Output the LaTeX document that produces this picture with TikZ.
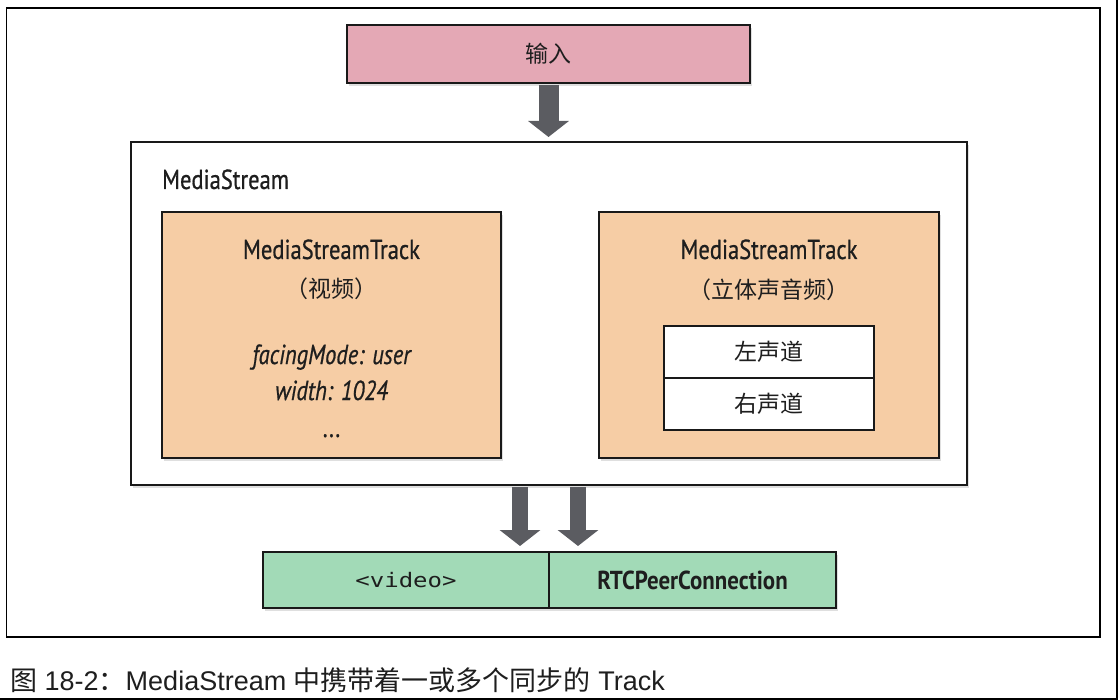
\documentclass[tikz,border=0pt]{standalone}
\usepackage{fontspec}
\usetikzlibrary{positioning,arrows.meta,shadows}
\newfontfamily\myriad[FakeStretch=0.82,FakeBold=0.7]{PT Sans}
\newfontfamily\myriadbold[FakeStretch=0.88]{PT Sans Bold}
\newfontfamily\cjk{Noto Sans CJK SC}
\newfontfamily\capfont{Liberation Sans}
\newfontfamily\codefont[FakeStretch=1.2]{DejaVu Sans Mono}
\definecolor{inpink}{HTML}{E4A8B5}
\definecolor{trackorange}{HTML}{F6CDA5}
\definecolor{outgreen}{HTML}{A2DAB7}
\definecolor{arrowgray}{HTML}{5B5C61}
\definecolor{ink}{HTML}{1E1E1E}
\tikzset{every node/.style={align=center, inner sep=0pt, text=ink},
  box/.style={draw=black!90, line width=2pt, rectangle, drop shadow={opacity=0.25, shadow xshift=2pt, shadow yshift=-3pt}},
  chbox/.style={draw=black!90, line width=2pt, fill=white, outer sep=0pt, minimum width=210pt, minimum height=52pt, font=\cjk\fontsize{23}{26}\selectfont},
  outbox/.style={box, fill=outgreen, outer sep=0pt, minimum height=56pt},
  lbl/.style={font=\myriad\fontsize{27.5}{30}\selectfont},
  prop/.style={font=\myriad\itshape\fontsize{27.5}{30}\selectfont},
  cjklbl/.style={font=\cjk\fontsize{23}{26}\selectfont},
  flow/.style={draw=arrowgray, line width=#1, shorten <=1pt, -{Triangle[width=40pt,length=16pt]}}}

\begin{document}
\begin{tikzpicture}[x=1pt, y=-1pt]
    \useasboundingbox (0,0) rectangle (1118,700);
    \draw[line width=1.5pt] (6.5,8) rectangle (1100,637);
    \draw[line width=1.5pt] (1117,0) -- (1117,700);
    \draw[line width=1.5pt] (0,699) -- (1118,699);
    % input and stream
    \node[box, fill=inpink, minimum width=403pt, minimum height=58pt] (input) at (548.5,54) {\cjk\fontsize{23}{26}\selectfont 输入};
    \node[box, fill=white, minimum width=836pt, minimum height=343pt] (ms) at (549,313.5) {};
    \node[lbl, anchor=base west] (mslabel) at (162,189) {MediaStream};
    % video track
    \node[box, fill=trackorange, minimum width=339pt, minimum height=246pt] (vtrack) at (331.5,335) {};
    \node[lbl, anchor=base] (vtitle) at (331.5,259) {MediaStreamTrack};
    \node[cjklbl] (vsub) at (331.5,289) {（视频）};
    \node[prop, anchor=base] (vmode) at (331.5,364) {facingMode: user};
    \node[prop, anchor=base] (vwidth) at (331.5,400) {width: 1024};
    \node[lbl, anchor=base] (vmore) at (331.5,437) {...};
    % audio track
    \node[box, fill=trackorange, minimum width=340pt, minimum height=246pt] (atrack) at (769,335) {};
    \node[lbl, anchor=base] (atitle) at (769,259) {MediaStreamTrack};
    \node[cjklbl] (asub) at (769,290) {（立体声音频）};
    \node[chbox] (lch) at (769,352) {左声道};
    \node[chbox, below=0pt of lch] (rch) {右声道};
    % outputs
    \node[outbox, minimum width=286pt, font=\codefont\fontsize{20}{24}\selectfont] (video) at (406,580) {<video>};
    \node[outbox, minimum width=287pt, right=0pt of video, font=\myriadbold\fontsize{26}{30}\selectfont] (rtc) {RTCPeerConnection};
    \coordinate[xshift=-29pt] (in1) at (video.north east);
    \coordinate[xshift=29pt] (in2) at (video.north east);
    \draw[flow=20pt, shorten >=4pt] (input.south) -- (input.south |- ms.north);
    \draw[flow=16pt, shorten >=6pt] (in1 |- ms.south) -- (in1);
    \draw[flow=16pt, shorten >=6pt] (in2 |- ms.south) -- (in2);
    % caption
    \node[anchor=base west, font=\capfont\fontsize{27}{30}\selectfont] (caption) at (10,690) {{\cjk 图} 18-2{\cjk ：}MediaStream {\cjk 中携带着一或多个同步的} Track};
\end{tikzpicture}
\end{document}
